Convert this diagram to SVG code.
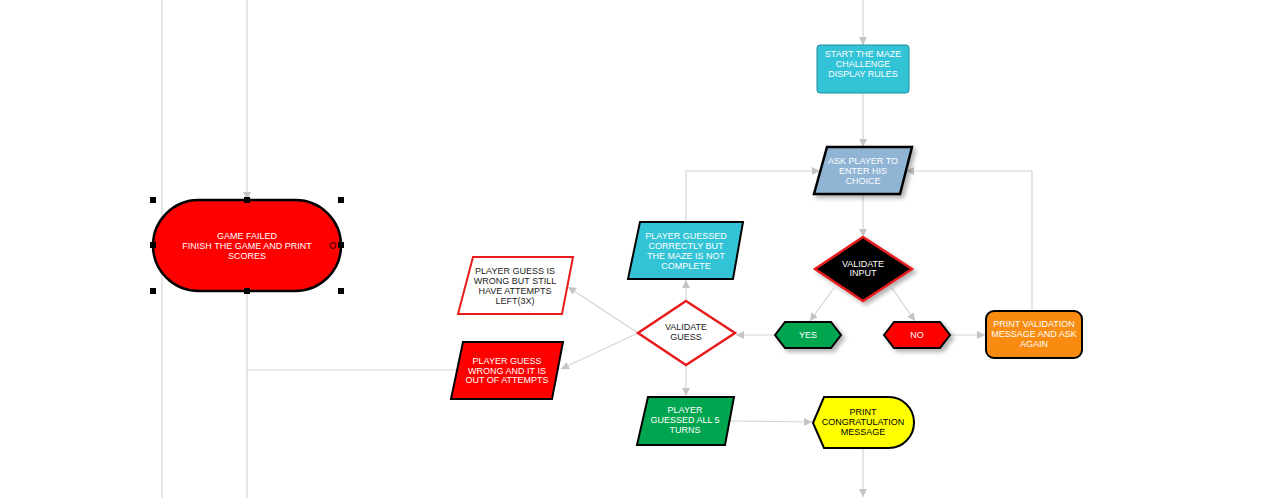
<svg xmlns="http://www.w3.org/2000/svg" width="1278" height="498" viewBox="0 0 1278 498">
<defs>
<marker id="ah" viewBox="0 0 10 10" refX="10" refY="5" markerWidth="8" markerHeight="8" markerUnits="userSpaceOnUse" orient="auto"><path d="M0,0 L10,5 L0,10 z" fill="#c4c4c4"/></marker>
<filter id="sh" x="-20%" y="-20%" width="150%" height="160%"><feDropShadow dx="3" dy="3" stdDeviation="2" flood-color="#000" flood-opacity="0.3"/></filter>
</defs>
<style>
.c{fill:none;stroke:#d4d4d4;stroke-width:1.2}
.a{marker-end:url(#ah)}
.t{font-family:"Liberation Sans",Arial,sans-serif;font-size:9px;text-anchor:middle}
.w{fill:#fff}
.k{fill:#222}
.h{fill:#000}
</style>
<rect width="1278" height="498" fill="#fff"/>
<g id="connectors">
<line class="c" x1="162" y1="0" x2="162" y2="498"/>
<line class="c a" x1="247" y1="0" x2="247" y2="200"/>
<polyline class="c" points="247,292 247,498"/>
<line class="c" x1="247" y1="370" x2="457" y2="370"/>
<line class="c a" x1="863" y1="0" x2="863" y2="45"/>
<line class="c a" x1="863" y1="93" x2="863" y2="147"/>
<line class="c a" x1="863" y1="195" x2="863" y2="237"/>
<line class="c a" x1="834" y1="288" x2="810" y2="321"/>
<line class="c a" x1="892" y1="288" x2="915" y2="321"/>
<line class="c a" x1="950" y1="335" x2="985" y2="335"/>
<polyline class="c a" points="1032,311 1032,171 906,171"/>
<line class="c a" x1="775" y1="335" x2="736" y2="335"/>
<line class="c a" x1="686" y1="301" x2="686" y2="280"/>
<polyline class="c a" points="686,222 686,171 820,171"/>
<line class="c a" x1="638" y1="333" x2="568" y2="287"/>
<line class="c a" x1="638" y1="333" x2="561" y2="369"/>
<line class="c a" x1="686" y1="365" x2="686" y2="396"/>
<line class="c a" x1="730" y1="421" x2="812" y2="422"/>
<line class="c a" x1="863" y1="448" x2="863" y2="497"/>
</g>
<g id="game-failed">
<rect x="153" y="200" width="188" height="91" rx="45.5" fill="#ff0000" stroke="#000" stroke-width="2.5"/>
<text class="t w" x="247" y="239">GAME FAILED</text>
<text class="t w" x="247" y="249">FINISH THE GAME AND PRINT</text>
<text class="t w" x="247" y="259">SCORES</text>
<g fill="#000">
<rect x="150" y="197" width="6" height="6"/><rect x="244" y="197" width="6" height="6"/><rect x="338" y="197" width="6" height="6"/>
<rect x="150" y="242" width="6" height="6"/><rect x="338" y="242" width="6" height="6"/>
<rect x="150" y="288" width="6" height="6"/><rect x="244" y="288" width="6" height="6"/><rect x="338" y="288" width="6" height="6"/>
</g>
<circle cx="333" cy="245.5" r="3" fill="none" stroke="#000" stroke-width="0.8"/>
</g>
<g id="start">
<rect x="817" y="45" width="92" height="48" rx="3" fill="#33c3d6" stroke="#1e8e9c" stroke-width="1"/>
<text class="t w" x="863" y="57">START THE MAZE</text>
<text class="t w" x="863" y="67">CHALLENGE</text>
<text class="t w" x="863" y="77">DISPLAY RULES</text>
</g>
<g id="ask-player">
<polygon points="827,147 912,147 900,194 814,194" fill="#8fb4d4" stroke="#000" stroke-width="2.5" filter="url(#sh)"/>
<text class="t w" x="863" y="164">ASK PLAYER TO</text>
<text class="t w" x="863" y="174">ENTER HIS</text>
<text class="t w" x="863" y="184">CHOICE</text>
</g>
<g id="validate-input">
<polygon points="863,237 912,269 863,301 815,269" fill="#000" stroke="#e81c1c" stroke-width="2.5" filter="url(#sh)"/>
<text class="t w" x="863" y="267">VALIDATE</text>
<text class="t w" x="863" y="276">INPUT</text>
</g>
<g id="yes">
<polygon points="775,335 785,322 831,322 841,335 831,348 785,348" fill="#00a550" stroke="#000" stroke-width="2" filter="url(#sh)"/>
<text class="t w" x="808" y="338">YES</text>
</g>
<g id="no">
<polygon points="884,335 894,322 940,322 950,335 940,348 894,348" fill="#ff0000" stroke="#000" stroke-width="2" filter="url(#sh)"/>
<text class="t w" x="917" y="338">NO</text>
</g>
<g id="print-validation">
<rect x="986" y="311" width="96" height="47" rx="8" fill="#f98c10" stroke="#000" stroke-width="2"/>
<text class="t w" x="1034" y="327">PRINT VALIDATION</text>
<text class="t w" x="1034" y="337">MESSAGE AND ASK</text>
<text class="t w" x="1034" y="347">AGAIN</text>
</g>
<g id="validate-guess">
<polygon points="686,301 735,333 686,365 638,333" fill="#fff" stroke="#e81c1c" stroke-width="2.5"/>
<text class="t k" x="686" y="330">VALIDATE</text>
<text class="t k" x="686" y="340">GUESS</text>
</g>
<g id="guessed-correctly">
<polygon points="640,222 743,222 733,279 628,279" fill="#33c3d6" stroke="#000" stroke-width="2"/>
<text class="t w" x="686" y="239">PLAYER GUESSED</text>
<text class="t w" x="686" y="249">CORRECTLY BUT</text>
<text class="t w" x="686" y="259">THE MAZE IS NOT</text>
<text class="t w" x="686" y="269">COMPLETE</text>
</g>
<g id="wrong-attempts-left">
<polygon points="473,257 573,257 562,314 458,314" fill="#fff" stroke="#e81c1c" stroke-width="2"/>
<text class="t k" x="515" y="274">PLAYER GUESS IS</text>
<text class="t k" x="515" y="284">WRONG BUT STILL</text>
<text class="t k" x="515" y="294">HAVE ATTEMPTS</text>
<text class="t k" x="515" y="304">LEFT(3X)</text>
</g>
<g id="wrong-out-of-attempts">
<polygon points="463,342 563,342 552,399 451,399" fill="#ff0000" stroke="#000" stroke-width="2"/>
<text class="t w" x="507" y="364">PLAYER GUESS</text>
<text class="t w" x="507" y="374">WRONG AND IT IS</text>
<text class="t w" x="507" y="383">OUT OF ATTEMPTS</text>
</g>
<g id="guessed-all">
<polygon points="648,397 734,397 725,445 637,445" fill="#00a550" stroke="#000" stroke-width="2"/>
<text class="t w" x="685" y="413">PLAYER</text>
<text class="t w" x="685" y="423">GUESSED ALL 5</text>
<text class="t w" x="685" y="433">TURNS</text>
</g>
<g id="congratulation">
<path d="M813,423 L824,397 L889,397 A25,25.5 0 0 1 889,448 L824,448 Z" fill="#ffff00" stroke="#000" stroke-width="2"/>
<text class="t h" x="863" y="415">PRINT</text>
<text class="t h" x="863" y="425">CONGRATULATION</text>
<text class="t h" x="863" y="435">MESSAGE</text>
</g>
</svg>
